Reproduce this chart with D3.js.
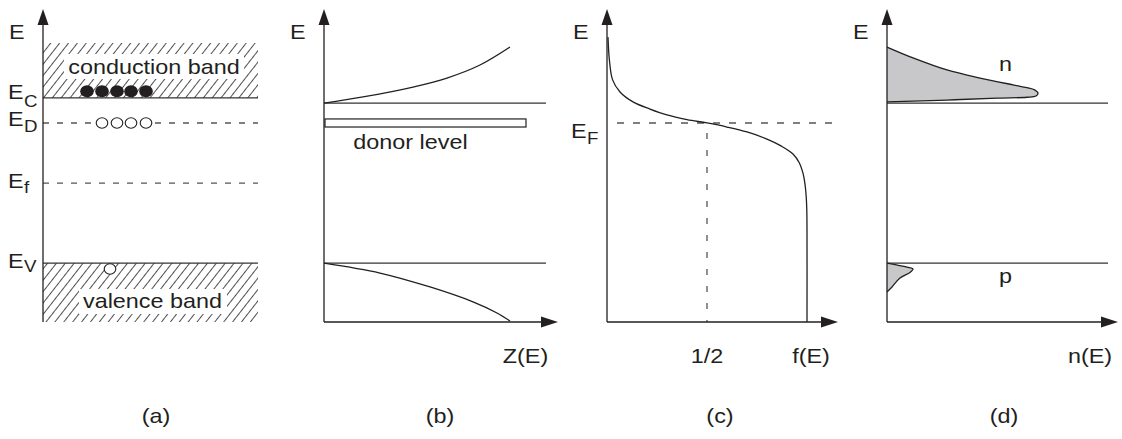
<!DOCTYPE html>
<html><head><meta charset="utf-8">
<script src="https://cdn.jsdelivr.net/npm/d3@7"></script>
<style>
body{margin:0;background:#fff}
svg{display:block}
text{font-family:"Liberation Sans",Arial,Helvetica,sans-serif;fill:#231f20}
</style>
</head><body>
<svg id="c" width="1122" height="439"></svg>
<script>
// ---------- data (energy in arbitrary units 0..100, x in panel units 0..1) ----------
const panelLabels = ["(a)", "(b)", "(c)", "(d)"];
const xAxisLabels = ["Z(E)", "f(E)", "n(E)"];           // panels b, c, d
const fTicks = [0.5];
const fTickLabels = ["1/2"];

// panel (a): band diagram
const hatchTopA = 90.0;
const levelEnergiesA = [72.3, 64.2, 44.8, 19.0];        // E_C, E_D, E_f, E_V
const levelSubsA = ["C", "D", "f", "V"];
const levelDashedA = [false, true, true, false];
const electronX = [0.22, 0.295, 0.37, 0.44, 0.515];
const electronE = 74.4;
const donorX = [0.295, 0.37, 0.44, 0.515];
const donorE = 64.2;
const holeX = [0.335];
const holeE = 17.1;
const bandNames = ["conduction band", "valence band"];

// panel (b): density of states Z(E)
const bandEdgesB = [70.6, 19.0];
const zConduction = [[0, 70.6], [0.195, 72.6], [0.445, 75.8], [0.615, 78.7], [0.78, 82.9], [0.93, 88.7]];
const zValence = [[0, 19.0], [0.28, 15.8], [0.53, 11.3], [0.745, 6.5], [0.865, 2.9], [0.93, 0.3]];
const donorBandX = [0.005, 1.01];
const donorBandE = [62.9, 65.5];

// panel (c): Fermi function f(E)
const fermiEF = 64.2;
const fermiCurve = [[0.005, 91.9], [0.012, 84.5], [0.028, 78.1], [0.065, 74.2], [0.13, 71.0], [0.215, 68.7],
  [0.30, 66.8], [0.40, 65.3], [0.50, 64.2], [0.60, 62.9], [0.70, 61.3], [0.80, 59.0], [0.87, 56.8],
  [0.93, 54.2], [0.962, 51.3], [0.98, 48.0], [0.99, 44.5], [0.996, 40.5], [0.999, 36.0], [1.0, 30.0], [1.0, 0]];

// panel (d): carrier densities n(E)
const bandEdgesD = [70.6, 19.0];
const nDist = [[0, 88.7], [0.13, 85.2], [0.30, 81.3], [0.465, 78.7], [0.63, 76.5], [0.70, 75.6],
  [0.738, 74.9], [0.755, 73.9], [0.745, 72.9], [0.70, 72.5], [0.55, 72.2], [0.30, 71.6], [0, 71.0]];
const pDist = [[0, 19.0], [0.1, 17.7], [0.13, 17.1], [0.115, 16.0], [0.065, 14.2], [0.025, 11.3], [0, 9.7]];

// ---------- layout ----------
const svg = d3.select("#c");
const ink = "#231f20";
const SX = 1.17;
const FS = 20, FSUB = 16;
const y = d3.scaleLinear().domain([0, 100]).range([322, 12]);
const origins = [43, 324, 607, 887];
const xs = origins.map(o => d3.scaleLinear().domain([0, 1]).range([o, o + 200]));
const [xa, xb, xc, xd] = xs;
const axisTopE = 101;
const axisEnds = [null, 1.17, 1.155, 1.155];
const lineEnds = [1.075, 1.11, 1.155, 1.105];

const defs = svg.append("defs");
const pat = defs.append("pattern").attr("id", "hatch").attr("patternUnits", "userSpaceOnUse")
  .attr("width", 7.0).attr("height", 10).attr("patternTransform", "rotate(38)");
pat.append("line").attr("x1", 3.5).attr("y1", -1).attr("x2", 3.5).attr("y2", 11)
  .attr("stroke", "#222").attr("stroke-width", 0.8);

function txt(x, yb, s, size, anchor = "start", sx = SX) {
  return svg.append("text").attr("transform", `translate(${x},${yb}) scale(${sx},1)`)
    .attr("text-anchor", anchor).attr("font-size", size).text(s);
}
function vAxis(x) {
  svg.append("line").attr("x1", x).attr("x2", x).attr("y1", y(0)).attr("y2", y(axisTopE) + 8)
    .attr("stroke", ink).attr("stroke-width", 1.3);
  const t = y(axisTopE);
  svg.append("path").attr("d", `M${x},${t} L${x - 5.5},${t + 16} L${x + 5.5},${t + 16} Z`).attr("fill", ink);
}
function hAxis(sc, end) {
  const x0 = sc(0), x1 = sc(end), yy = y(0);
  svg.append("line").attr("x1", x0).attr("x2", x1 - 8).attr("y1", yy).attr("y2", yy)
    .attr("stroke", ink).attr("stroke-width", 1.3);
  svg.append("path").attr("d", `M${x1},${yy} L${x1 - 17},${yy - 5.5} L${x1 - 17},${yy + 5.5} Z`).attr("fill", ink);
}
function hLine(sc, E, x1, dash) {
  const l = svg.append("line").attr("x1", sc(0)).attr("x2", sc(x1)).attr("y1", y(E)).attr("y2", y(E))
    .attr("stroke", dash ? "#555" : "#333").attr("stroke-width", 1.3);
  if (dash) l.attr("stroke-dasharray", dash);
  return l;
}

// ---------- panel (a) ----------
svg.append("rect").attr("x", xa(0)).attr("width", xa(lineEnds[0]) - xa(0))
  .attr("y", y(hatchTopA)).attr("height", y(levelEnergiesA[0]) - y(hatchTopA)).attr("fill", "url(#hatch)");
svg.append("rect").attr("x", xa(0)).attr("width", xa(lineEnds[0]) - xa(0))
  .attr("y", y(levelEnergiesA[3])).attr("height", y(0) - y(levelEnergiesA[3])).attr("fill", "url(#hatch)");
// white boxes behind band names
svg.append("rect").attr("x", 64).attr("y", 54).attr("width", 180).attr("height", 25).attr("fill", "#fff");
svg.append("rect").attr("x", 79).attr("y", 289).attr("width", 148).attr("height", 25).attr("fill", "#fff");
txt(154, 74, bandNames[0], FS, "middle");
txt(152.5, 308, bandNames[1], FS, "middle");
levelEnergiesA.forEach((E, i) => {
  hLine(xa, E, lineEnds[0], levelDashedA[i] ? "6,8" : null);
});
svg.selectAll(".el").data(electronX).enter().append("ellipse")
  .attr("cx", d => xa(d)).attr("cy", y(electronE)).attr("rx", 6.8).attr("ry", 6).attr("fill", ink);
svg.selectAll(".don").data(donorX).enter().append("ellipse")
  .attr("cx", d => xa(d)).attr("cy", y(donorE)).attr("rx", 5.8).attr("ry", 5.2)
  .attr("fill", "#fff").attr("stroke", ink).attr("stroke-width", 1.1);
svg.selectAll(".hole").data(holeX).enter().append("ellipse")
  .attr("cx", d => xa(d)).attr("cy", y(holeE)).attr("rx", 5.8).attr("ry", 5.2)
  .attr("fill", "#fff").attr("stroke", ink).attr("stroke-width", 1.1);
vAxis(xa(0));
// level labels
const levelLabelY = [[99, 107], [126, 132], [188, 193], [268, 272]];
levelSubsA.forEach((s, i) => {
  txt(8, levelLabelY[i][0], "E", FS);
  txt(24, levelLabelY[i][1], s, FSUB);
});

// ---------- panel (b) ----------
bandEdgesB.forEach(E => hLine(xb, E, lineEnds[1], null));
const curve = d3.line().curve(d3.curveCatmullRom.alpha(0.5));
svg.append("path").attr("d", curve.x(d => xb(d[0])).y(d => y(d[1]))(zConduction))
  .attr("fill", "none").attr("stroke", ink).attr("stroke-width", 1.3);
svg.append("path").attr("d", curve.x(d => xb(d[0])).y(d => y(d[1]))(zValence))
  .attr("fill", "none").attr("stroke", ink).attr("stroke-width", 1.3);
svg.append("rect").attr("x", xb(donorBandX[0])).attr("width", xb(donorBandX[1]) - xb(donorBandX[0]))
  .attr("y", y(donorBandE[1])).attr("height", y(donorBandE[0]) - y(donorBandE[1]))
  .attr("fill", "#fff").attr("stroke", ink).attr("stroke-width", 1.2);
txt(410.5, 149, "donor level", FS, "middle");
vAxis(xb(0));
hAxis(xb, axisEnds[1]);

// ---------- panel (c) ----------
svg.append("line").attr("x1", xc(0.05)).attr("x2", xc(axisEnds[2])).attr("y1", y(fermiEF)).attr("y2", y(fermiEF))
  .attr("stroke", "#555").attr("stroke-width", 1.3).attr("stroke-dasharray", "7,9");
svg.append("line").attr("x1", xc(fTicks[0])).attr("x2", xc(fTicks[0])).attr("y1", y(fermiEF) + 10).attr("y2", y(0))
  .attr("stroke", "#555").attr("stroke-width", 1.3).attr("stroke-dasharray", "6,11");
const fermiLine = d3.line().curve(d3.curveCatmullRom.alpha(0.5)).x(d => xc(d[0])).y(d => y(d[1]));
svg.append("path").attr("d", fermiLine(fermiCurve))
  .attr("fill", "none").attr("stroke", ink).attr("stroke-width", 1.3);
vAxis(xc(0));
hAxis(xc, axisEnds[2]);
txt(571, 138, "E", FS);
txt(587, 144, "F", FSUB);
fTicks.forEach((f, i) => txt(xc(f), 363, fTickLabels[i], FS, "middle"));

// ---------- panel (d) ----------
bandEdgesD.forEach(E => hLine(xd, E, lineEnds[3], null));
svg.append("path").attr("d", curve.x(d => xd(d[0])).y(d => y(d[1]))(nDist))
  .attr("fill", "#c8c8ca").attr("stroke", ink).attr("stroke-width", 1.3);
svg.append("path").attr("d", curve.x(d => xd(d[0])).y(d => y(d[1]))(pDist))
  .attr("fill", "#c8c8ca").attr("stroke", ink).attr("stroke-width", 1.3);
vAxis(xd(0));
hAxis(xd, axisEnds[3]);
txt(1005.5, 71, "n", FS, "middle");
txt(1005.5, 283, "p", FS, "middle");

// ---------- shared labels ----------
[xa, xb, xc, xd].forEach((sc, i) => txt(sc(0) - 34, 39, "E", FS));
const xLabelCenters = [525.5, 811, 1090];
xAxisLabels.forEach((s, i) => txt(xLabelCenters[i], 363, s, FS, "middle"));
const panelCenters = [156, 440, 720, 1004];
panelLabels.forEach((s, i) => txt(panelCenters[i], 423, s, FS, "middle"));
</script>
</body></html>
